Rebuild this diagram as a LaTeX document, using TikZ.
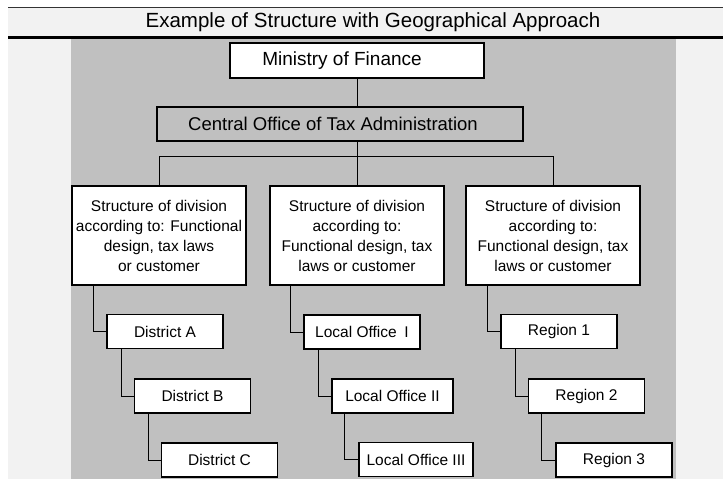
\documentclass[tikz,border=0pt]{standalone}
\usepackage{fontspec}
\setmainfont{Liberation Sans}
\usepackage{xcolor}
\usepackage{tikz}
\usetikzlibrary{positioning}
\definecolor{panelgray}{HTML}{C0C0C0}
\definecolor{pagegray}{HTML}{F2F2F2}
\tikzstyle{topbox} = [rectangle, draw=black, line width=1.3pt, fill=white, minimum width=254pt, minimum height=35pt, font=\fontsize{19}{22}\selectfont]
\tikzstyle{officebox} = [rectangle, draw=black, line width=1.3pt, fill=panelgray, minimum width=366pt, minimum height=34pt, font=\fontsize{18.5}{22}\selectfont]
\tikzstyle{division} = [rectangle, draw=black, line width=1.3pt, fill=white, minimum width=174pt, minimum height=99pt, align=center, font=\fontsize{15.5}{20}\selectfont]
\tikzstyle{unit} = [rectangle, draw=black, line width=1.3pt, fill=white, minimum width=116pt, minimum height=34pt, font=\fontsize{15.5}{18}\selectfont]
\tikzstyle{line} = [line width=1pt]

\begin{document}
\begin{tikzpicture}[x=1pt, y=-1pt]
\useasboundingbox (0,0) rectangle (723,479);
\fill [white] (0,0) rectangle (723,479);
\fill [pagegray] (8,7) rectangle (723,479);
\fill [panelgray] (71,39) rectangle (676,479);
\draw [line width=1pt, black!80] (8,7) -- (723,7);
\draw [line width=3pt] (8,37.5) -- (723,37.5);
\node (title) at (373,22) {\fontsize{20.5}{24}\selectfont Example of Structure with Geographical Approach};

\node (ministry) [topbox] at (357,60.5) {\hspace*{-30pt}Ministry of Finance};
\node (central) [officebox] at (340,124) {\hspace*{-14pt}Central Office of Tax Administration};

\node (sA) [division] at (159,235.5) {Structure of division\\according to: Functional\\design, tax laws\\or customer};
\node (sB) [division] at (357,235.5) {Structure of division\\according to:\\Functional design, tax\\laws or customer};
\node (sC) [division] at (553,235.5) {Structure of division\\according to:\\Functional design, tax\\laws or customer};

\node (dA) [unit] at (165,331.5) {District A};
\node (dB) [unit] at (192.5,396) {District B};
\node (dC) [unit] at (219.5,460) {District C};
\node (lA) [unit] at (362,332) {Local Office\enspace I};
\node (lB) [unit, minimum width=121pt] at (392.5,396) {Local Office II};
\node (lC) [unit, minimum width=114pt] at (416,459.5) {Local Office III};
\node (rA) [unit] at (559,331.5) {Region 1};
\node (rB) [unit] at (586.5,396) {Region 2};
\node (rC) [unit] at (614,460) {Region 3};

\draw [line] (ministry.south) -- (ministry.south |- central.north);
\draw [line] (ministry.south |- central.south) -- (sB.north);
\draw [line] (sA.north) -- ++(0,-29) -| (sC.north);
\draw [line] ([xshift=22pt]sA.south west) |- (dA.west);
\draw [line] ([xshift=15pt]dA.south west) |- (dB.west);
\draw [line] ([xshift=15pt]dB.south west) |- (dC.west);
\draw [line] ([xshift=21pt]sB.south west) |- (lA.west);
\draw [line] ([xshift=15pt]lA.south west) |- (lB.west);
\draw [line] ([xshift=13pt]lB.south west) |- (lC.west);
\draw [line] ([xshift=22pt]sC.south west) |- (rA.west);
\draw [line] ([xshift=15pt]rA.south west) |- (rB.west);
\draw [line] ([xshift=14pt]rB.south west) |- (rC.west);
\end{tikzpicture}
\end{document}
